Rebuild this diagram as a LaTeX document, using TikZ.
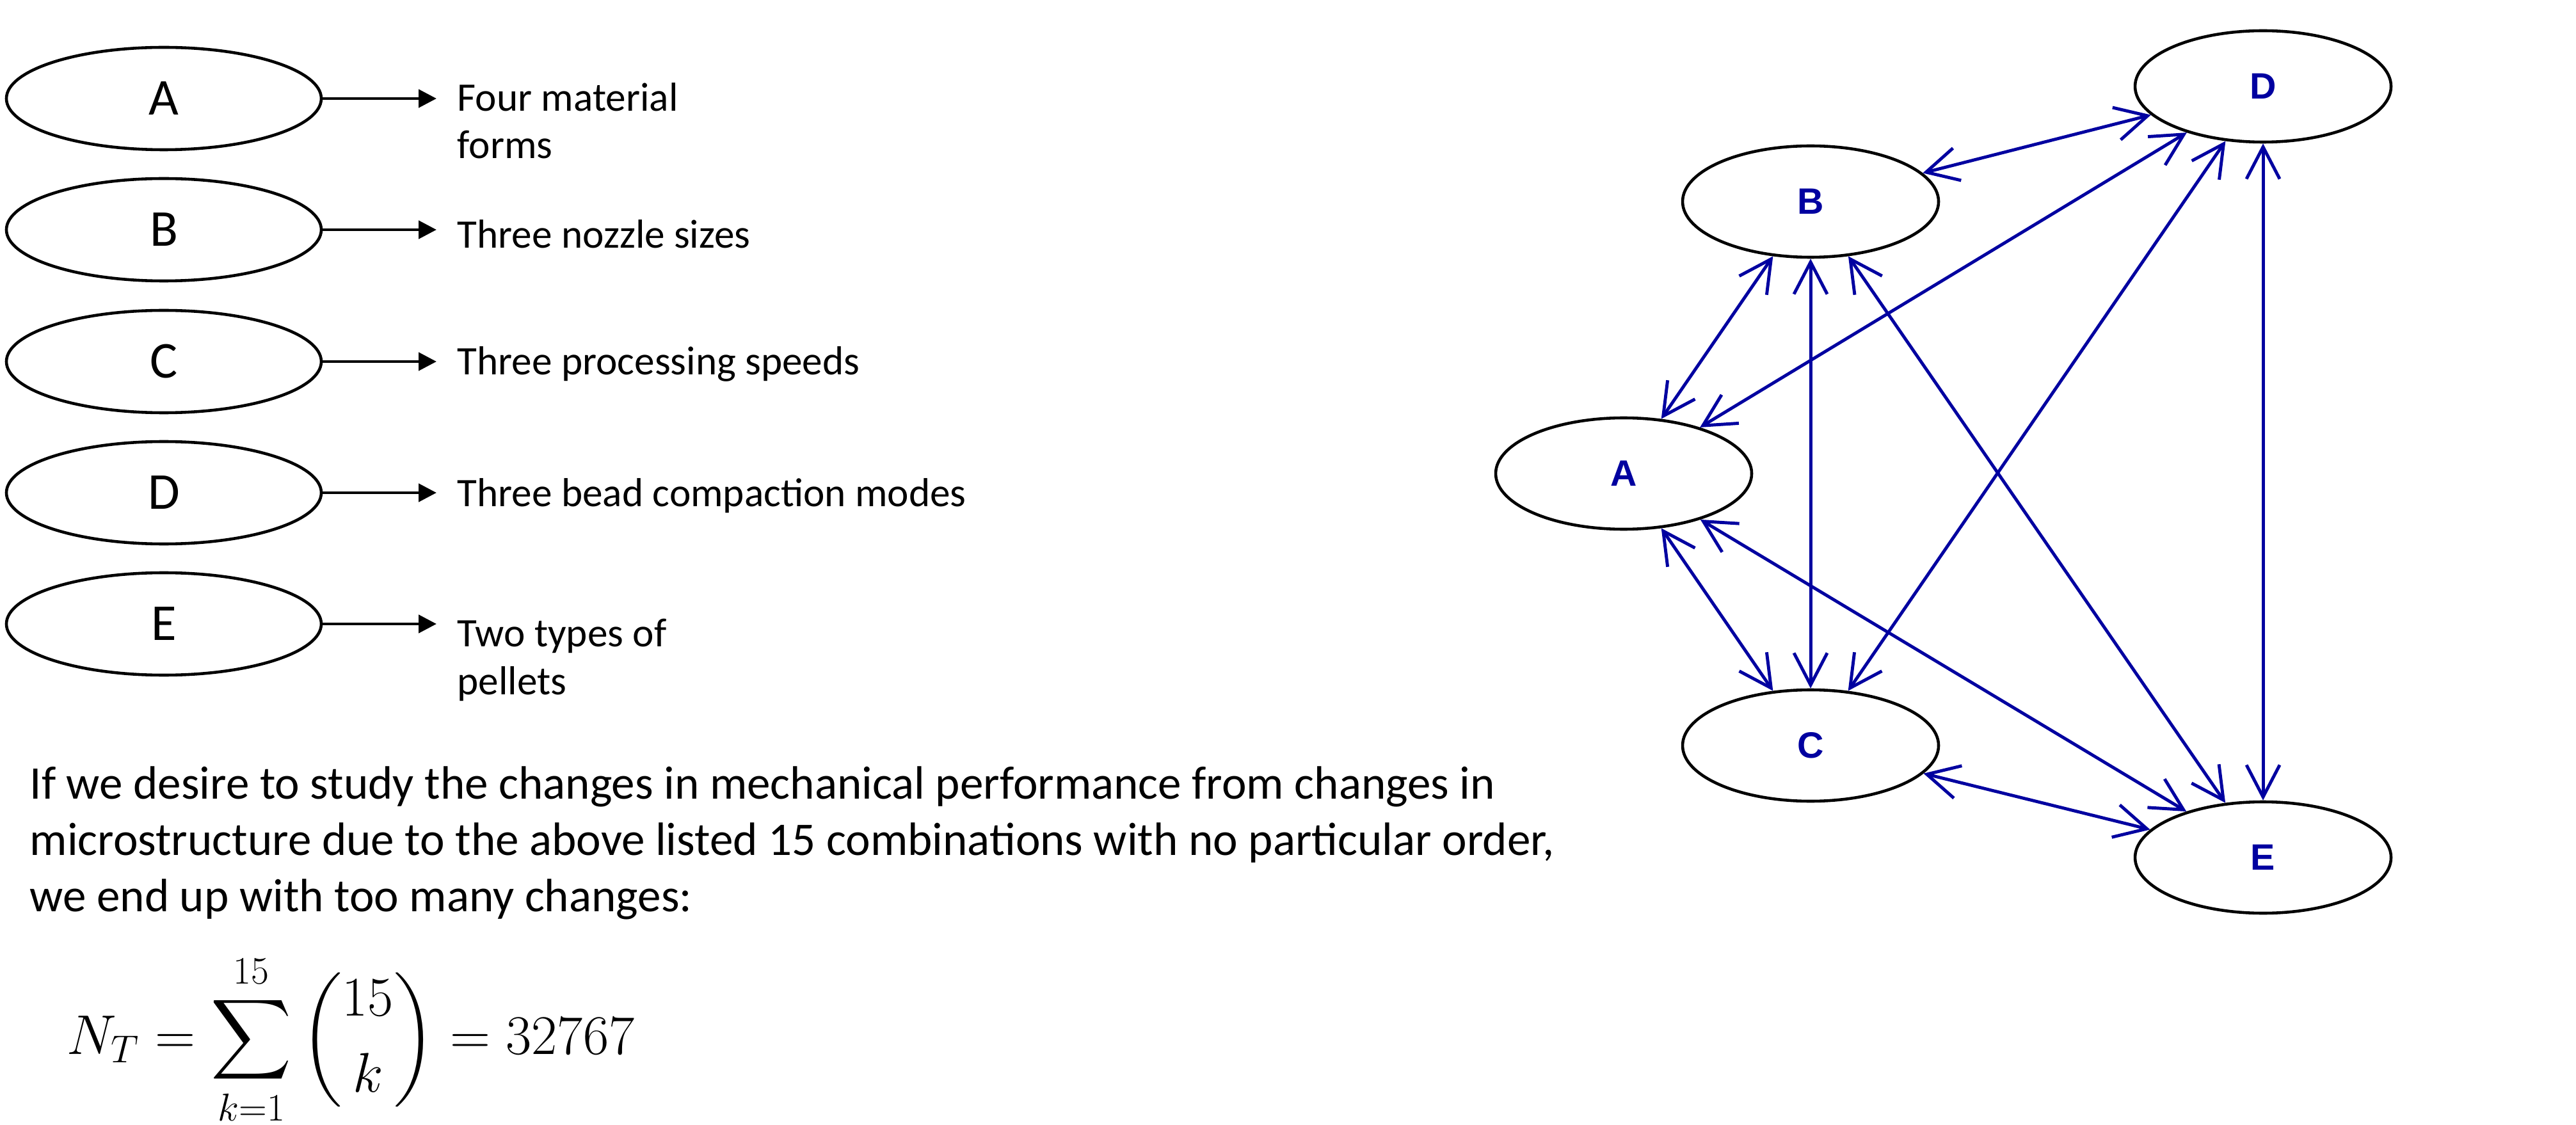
\documentclass[tikz,border=0pt]{standalone}
\usepackage{amsmath}
\usepackage{fontspec}
\setmainfont{Carlito}
\newfontfamily\graphfont{Liberation Sans}
\usetikzlibrary{calc,arrows.meta,shapes.geometric}
\definecolor{edgeblue}{RGB}{0,0,160}

\begin{document}
\begin{tikzpicture}[
  factor/.style={ellipse, draw, line width=1.3pt, minimum width=4.92cm, minimum height=1.6cm, inner sep=0pt, font={\fontsize{23}{27}\selectfont}},
  note/.style={anchor=base west, align=left, inner sep=0pt, font={\fontsize{18}{21.3}\selectfont}},
  vertex/.style={ellipse, draw, line width=1.3pt, minimum width=4cm, minimum height=1.74cm, inner sep=0pt, text=edgeblue, font={\graphfont\bfseries\fontsize{16.3}{19}\selectfont}},
  link/.style={edgeblue, line width=1.4pt, {Straight Barb[length=0.5cm,width=0.52cm]}-{Straight Barb[length=0.5cm,width=0.52cm]}}
]

% Page frame
\useasboundingbox (0,0) rectangle (40.25,17.57);

% Factor ellipses
\node[factor] (fA) at (2.56,16.03) {A};
\node[factor] (fB) at (2.56,13.98) {B};
\node[factor] (fC) at (2.56,11.92) {C};
\node[factor] (fD) at (2.56,9.87) {D};
\node[factor] (fE) at (2.56,7.82) {E};

% Arrow ends
\coordinate (eA) at (6.82,16.03);
\coordinate (eB) at (6.82,13.98);
\coordinate (eC) at (6.82,11.92);
\coordinate (eD) at (6.82,9.87);
\coordinate (eE) at (6.82,7.82);

% Arrows to the descriptions
\draw[line width=1.4pt, -{Triangle[length=0.28cm,width=0.28cm]}] (fA) -- (eA);
\draw[line width=1.4pt, -{Triangle[length=0.28cm,width=0.28cm]}] (fB) -- (eB);
\draw[line width=1.4pt, -{Triangle[length=0.28cm,width=0.28cm]}] (fC) -- (eC);
\draw[line width=1.4pt, -{Triangle[length=0.28cm,width=0.28cm]}] (fD) -- (eD);
\draw[line width=1.4pt, -{Triangle[length=0.28cm,width=0.28cm]}] (fE) -- (eE);

% Descriptions (base = last line)
\node[note] (tA) at (7.14,15.09) {Four material\\forms};
\node[note] (tB) at (7.14,13.69) {Three nozzle sizes};
\node[note] (tC) at (7.14,11.71) {Three processing speeds};
\node[note] (tD) at (7.14,9.66) {Three bead compaction modes};
\node[note] (tE) at (7.14,6.72) {Two types of\\pellets};

% Paragraph and formula
\node[anchor=base west, align=left, inner sep=0pt, font={\fontsize{20.8}{25}\selectfont}] (para) at (0.46,3.33)
  {If we desire to study the changes in mechanical performance from changes in\\
   microstructure due to the above listed 15 combinations with no particular order,\\
   we end up with too many changes:};
\node[anchor=base west, inner sep=0pt, font={\fontsize{24.5}{29}\selectfont}] (sum) at (1.04,1.10)
  {$\displaystyle N_T=\sum_{k=1}^{15}\binom{15}{k}=32767$};

% Graph vertices
\node[vertex] (gA) at (25.37,10.17) {A};
\node[vertex] (gB) at (28.29,14.42) {B};
\node[vertex] (gC) at (28.29,5.92) {C};
\node[vertex] (gD) at (35.36,16.22) {D};
\node[vertex] (gE) at (35.36,4.17) {E};

% Graph edges
\draw[link] (gB) -- (gD);
\draw[link] (gA) -- (gB);
\draw[link] (gA) -- (gD);
\draw[link] (gB) -- (gC);
\draw[link] (gB) -- (gE);
\draw[link] (gC) -- (gD);
\draw[link] (gA) -- (gC);
\draw[link] (gA) -- (gE);
\draw[link] (gC) -- (gE);
\draw[link] (gD) -- (gE);

\end{tikzpicture}
\end{document}
